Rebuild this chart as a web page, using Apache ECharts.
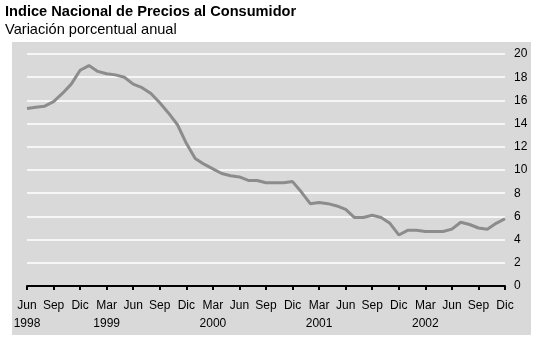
<!DOCTYPE html>
<html><head><meta charset="utf-8">
<script src="https://cdn.jsdelivr.net/npm/echarts@6/dist/echarts.min.js"></script>
<style>html,body{margin:0;padding:0;background:#fff}#c{width:533px;height:337px}</style>
</head><body><div id="c"></div>
<script>
const months = ['Ene','Feb','Mar','Abr','May','Jun','Jul','Ago','Sep','Oct','Nov','Dic'];
const startYear = 1998, startMonth = 5; // Jun 1998
const values = [
  15.3, 15.4, 15.5, 15.9, 16.6, 17.4, 18.6,
  19.0, 18.5, 18.3, 18.2, 18.0, 17.4, 17.1, 16.6, 15.8, 14.9, 13.9, 12.3,
  11.0, 10.5, 10.1, 9.7, 9.5, 9.4, 9.1, 9.1, 8.9, 8.9, 8.9, 9.0,
  8.1, 7.1, 7.2, 7.1, 6.9, 6.6, 5.9, 5.9, 6.1, 5.9, 5.4, 4.4,
  4.8, 4.8, 4.7, 4.7, 4.7, 4.9, 5.5, 5.3, 5.0, 4.9, 5.4, 5.8
];
const categories = values.map((v, i) => {
  const m = (startMonth + i) % 12;
  const y = startYear + Math.floor((startMonth + i) / 12);
  return months[m] + '|' + y;
});
const yTicks = [0, 20, 2];

const chart = echarts.init(document.getElementById('c'), null, {renderer: 'canvas'});
const font = '"Liberation Sans", Arial, sans-serif';
chart.setOption({
  animation: false,
  backgroundColor: '#fff',
  graphic: [
    {type: 'rect', z: -10, shape: {x: 12, y: 42, width: 519, height: 293}, style: {fill: '#d9d9d9'}},
    {type: 'text', left: 5, top: 4, style: {text: 'Indice Nacional de Precios al Consumidor', font: 'bold 14.6px ' + font, fill: '#000'}},
    {type: 'text', left: 5, top: 22, style: {text: 'Variación porcentual anual', font: '14.6px ' + font, fill: '#000'}}
  ],
  grid: {left: 27, right: 28, top: 54, bottom: 51, containLabel: false},
  xAxis: {
    type: 'category', data: categories, boundaryGap: false,
    axisLine: {lineStyle: {color: '#000', width: 2}},
    axisTick: {show: true, interval: (i) => i % 3 === 0, length: 4, lineStyle: {color: '#000', width: 2}},
    axisLabel: {
      interval: (i) => i % 3 === 0, margin: 11, color: '#000',
      fontFamily: font, fontSize: 12, lineHeight: 18,
      formatter: (v, i) => {
        const [m, y] = v.split('|');
        return (i === 0 || m === 'Mar') ? m + '\n' + y : m;
      }
    },
    splitLine: {show: false}
  },
  yAxis: {
    type: 'value', position: 'right', min: yTicks[0], max: yTicks[1], interval: yTicks[2],
    axisLine: {show: false}, axisTick: {show: false},
    axisLabel: {color: '#000', fontFamily: font, fontSize: 12, margin: 9},
    splitLine: {lineStyle: {color: '#fff', width: 1.5}}
  },
  series: [{
    type: 'line', data: values, symbol: 'none',
    lineStyle: {color: '#8c8c8c', width: 3}
  }]
});
</script></body></html>
